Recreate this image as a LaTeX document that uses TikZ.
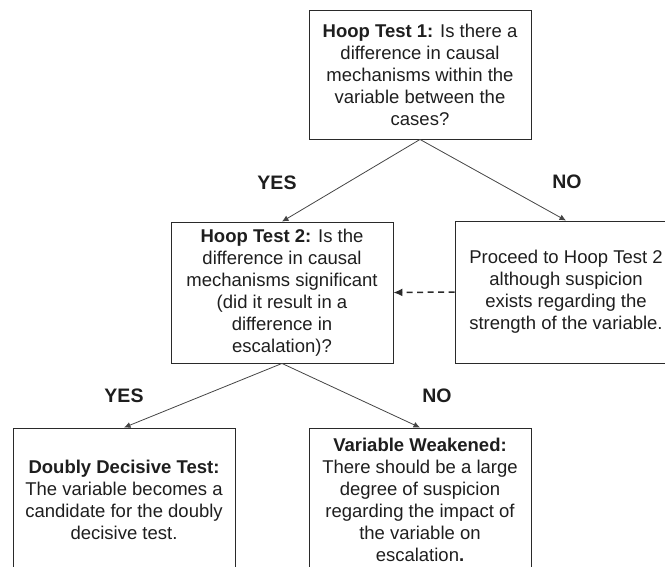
\documentclass[tikz,border=0pt]{standalone}
\usepackage{fontspec}
\setmainfont{Liberation Sans}
\usetikzlibrary{arrows.meta}
\definecolor{rand}{HTML}{2A2A2A}
\definecolor{schrift}{HTML}{1E1E1E}
\definecolor{grau}{HTML}{444444}
\tikzset{
  kasten/.style={draw=rand,line width=0.9pt,minimum width=222pt,inner sep=0pt,align=center,
    text=schrift,font=\fontsize{18.5}{22}\selectfont},
  pfeil/.style={-{Latex[length=6.5pt,width=6pt]},grau,line width=0.8pt},
  pfeilg/.style={-{Latex[length=9pt,width=8pt]},rand,line width=1.5pt,dash pattern=on 6pt off 4.5pt},
  antwort/.style={text=schrift,font=\fontsize{19.5}{22}\bfseries\selectfont},
}
\begin{document}
\begin{tikzpicture}[x=1pt,y=-1pt]
  \useasboundingbox (0,0) rectangle (665,566);
  \clip (0,0) rectangle (665,566);
  \node[kasten,minimum height=129pt] (hoopa) at (420,74.5)
    {\textbf{Hoop Test 1:} Is there a\\difference in causal\\mechanisms within the\\variable between the\\cases?};
  \node[kasten,minimum height=141pt] (hoopb) at (282,292.5)
    {\textbf{Hoop Test 2:} Is the\\difference in causal\\mechanisms significant\\(did it result in a\\difference in\\escalation)?};
  \node[kasten,minimum height=142pt] (proceed) at (566,292)
    {Proceed to Hoop Test 2\\although suspicion\\exists regarding the\\strength of the variable.};
  \node[kasten,minimum height=144pt] (doubly) at (124,500)
    {\textbf{Doubly Decisive Test:}\\The variable becomes a\\candidate for the doubly\\decisive test.};
  \node[kasten,minimum height=144pt] (weak) at (420,500)
    {\textbf{Variable Weakened:}\\There should be a large\\degree of suspicion\\regarding the impact of\\the variable on\\escalation\textbf{.}};
  \draw[pfeil] (hoopa.south) -- (hoopb.north);
  \draw[pfeil] (hoopa.south) -- (proceed.north);
  \draw[pfeilg] (proceed.west) -- (hoopb.east);
  \draw[pfeil] (hoopb.south) -- (doubly.north);
  \draw[pfeil] (hoopb.south) -- (weak.north);
  \node[antwort] (yesa) at (277,183) {YES};
  \node[antwort] (noa) at (567,182) {NO};
  \node[antwort] (yesb) at (124,396) {YES};
  \node[antwort] (nob) at (437,396) {NO};
\end{tikzpicture}
\end{document}
